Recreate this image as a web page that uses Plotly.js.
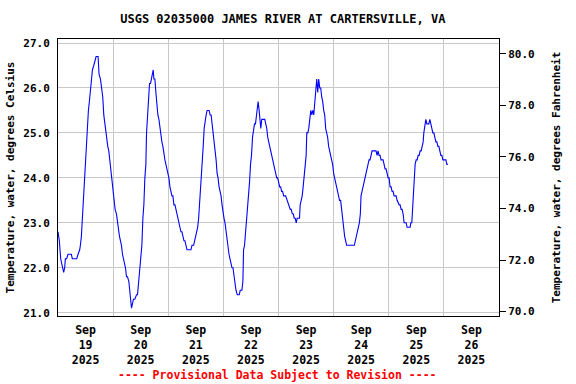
<!DOCTYPE html>
<html>
<head>
<meta charset="utf-8">
<script src="https://cdn.plot.ly/plotly-3.0.1.min.js"></script>
<style>html,body{margin:0;padding:0;background:#fff;}#chart{width:576px;height:384px;}</style>
</head>
<body>
<div id="chart"></div>
<script>
// Hours since 2025-09-19 00:00 (local station time)
const hoursSinceStart = [
0,0.58,1.16,1.45,2.04,2.47,2.91,3.2,3.78,4.36,5.82,6.25,8.15,8.73,9.45,9.75,10.18,10.62,11.05,11.49,11.93,12.36,12.8,13.24,13.67,13.96,14.55,14.98,15.56,16.0,16.58,17.45,17.89,18.47,19.05,19.49,19.93,20.36,20.8,21.24,21.67,22.11,22.55,22.98,23.42,24.0,24.44,24.87,25.45,25.89,26.33,26.76,27.2,27.64,28.07,28.51,28.95,29.38,29.82,30.25,30.84,31.27,31.56,32.0,32.44,32.87,33.45,34.18,34.62,35.05,35.49,36.07,36.51,36.95,37.38,37.82,38.25,38.55,38.98,39.42,39.85,40.29,40.73,41.16,41.45,41.75,42.18,42.62,43.05,43.49,43.93,44.36,44.8,45.24,45.67,46.11,46.55,46.98,47.42,47.85,48.29,48.73,49.16,49.6,50.04,50.47,50.91,51.35,51.78,52.22,52.65,53.09,53.53,53.96,54.4,54.84,55.27,55.71,56.15,57.89,58.33,59.05,59.49,59.93,60.36,60.8,61.24,61.67,
61.9,62.34,62.78,63.21,63.64,64.07,64.5,64.94,65.37,65.8,66.23,66.66,67.1,67.53,67.96,68.4,68.83,69.26,69.69,70.13,70.56,70.99,71.42,71.86,72.29,72.72,73.15,73.59,74.02,74.45,74.88,75.32,75.75,76.18,76.61,77.04,77.48,78.05,78.92,79.35,80.07,80.5,80.79,81.22,81.66,82.09,82.52,82.95,83.39,83.82,84.25,84.68,85.12,85.55,85.98,86.41,86.85,87.13,87.57,88.0,88.29,88.72,89.15,90.02,90.45,90.88,91.31,91.75,92.18,92.61,93.04,93.48,93.91,94.34,94.77,95.21,95.64,96.07,96.5,96.94,97.37,97.8,98.23,99.1,99.68,100.54,101.12,101.55,101.98,102.41,102.85,103.28,103.71,104.14,105.15,105.44,105.87,106.31,106.74,107.17,107.6,108.04,108.32,108.76,109.19,109.62,110.05,110.49,110.92,111.35,111.64,112.07,112.36,112.65,113.08,113.51,113.95,114.38,114.81,115.24,115.68,116.11,116.54,116.97,117.4,117.84,118.27,118.7,119.13,119.57,120.0,120.43,120.86,121.3,121.73,122.16,122.59,
123.05,123.49,123.93,124.36,124.8,125.24,125.67,129.02,129.45,129.89,130.33,130.76,131.2,131.64,131.93,132.36,132.8,133.24,133.67,134.11,134.55,134.98,135.42,135.85,136.29,136.73,137.16,138.47,138.91,139.35,139.78,140.22,140.65,141.53,141.96,142.4,142.84,143.27,143.71,144.15,144.58,145.02,145.45,145.89,146.33,147.2,147.64,148.51,148.95,149.38,149.82,150.25,150.69,151.56,152.0,153.31,153.6,154.04,154.33,154.62,155.05,155.49,155.93,156.36,156.8,157.24,157.67,158.11,158.55,158.98,159.27,159.71,160.15,160.58,161.02,161.45,161.89,162.33,162.76,163.2,163.64,164.07,164.51,164.95,165.38,165.82,166.25,166.69,167.13,167.56,168.0,168.44,168.87,169.31,169.75
];
// Water temperature, degrees Celsius
const tempC = [
22.8,22.6,22.2,22.1,22.0,21.9,22.0,22.2,22.2,22.3,22.3,22.2,22.2,22.3,22.4,22.5,22.7,23.1,23.5,24.0,24.2,24.6,25.1,25.5,25.7,25.9,26.1,26.4,26.5,26.6,26.7,26.7,26.3,26.2,26.0,25.8,25.4,25.2,25.1,24.9,24.7,24.6,24.4,24.1,23.9,23.7,23.5,23.3,23.2,23.0,22.9,22.7,22.6,22.5,22.3,22.2,22.1,22.0,21.8,21.8,21.7,21.5,21.3,21.1,21.2,21.3,21.3,21.4,21.4,21.7,21.8,22.2,22.5,23.1,23.4,24.0,24.3,25.0,25.3,25.6,26.1,26.1,26.2,26.3,26.4,26.2,26.2,25.9,25.6,25.4,25.3,25.1,25.0,24.8,24.7,24.5,24.4,24.3,24.2,24.1,24.0,23.8,23.7,23.6,23.6,23.4,23.4,23.3,23.2,23.1,23.0,22.9,22.8,22.8,22.7,22.6,22.6,22.5,22.4,22.4,22.5,22.5,22.6,22.7,22.8,22.9,23.1,23.4,
23.6,24.0,24.4,24.7,25.1,25.3,25.4,25.5,25.5,25.5,25.4,25.4,25.2,25.0,24.9,24.6,24.4,24.1,24.0,23.8,23.7,23.6,23.4,23.2,23.1,23.0,22.8,22.7,22.5,22.3,22.2,22.1,22.0,22.0,21.8,21.7,21.5,21.4,21.4,21.5,21.5,21.7,22.4,22.5,22.8,23.0,23.3,23.5,23.9,24.3,24.5,24.9,25.1,25.2,25.2,25.4,25.6,25.7,25.5,25.3,25.1,25.3,25.3,25.3,25.2,25.1,24.9,24.8,24.7,24.6,24.5,24.4,24.3,24.2,24.1,24.0,24.0,23.9,23.8,23.8,23.7,23.7,23.6,23.6,23.5,23.4,23.3,23.3,23.2,23.2,23.1,23.1,23.0,23.1,23.1,23.4,23.5,23.6,23.8,24.1,24.4,24.5,25.0,25.0,25.1,25.4,25.5,25.4,25.5,25.4,25.6,25.8,26.1,26.2,25.9,26.2,26.0,26.0,25.8,25.7,25.5,25.4,25.1,25.0,24.9,24.7,24.6,24.5,24.4,24.3,24.1,24.0,23.9,23.8,23.7,23.6,23.5,
23.5,23.3,23.0,22.9,22.7,22.6,22.5,22.5,22.6,22.7,22.8,22.9,23.0,23.2,23.6,23.7,23.8,23.9,24.0,24.1,24.2,24.3,24.4,24.4,24.5,24.6,24.6,24.6,24.5,24.6,24.5,24.5,24.4,24.4,24.3,24.2,24.2,24.1,24.0,24.0,23.8,23.8,23.7,23.7,23.6,23.6,23.5,23.4,23.4,23.3,23.3,23.2,23.0,23.0,22.9,22.9,23.0,23.0,23.3,23.6,24.0,24.3,24.4,24.4,24.5,24.5,24.6,24.6,24.7,24.8,25.0,25.2,25.3,25.2,25.2,25.2,25.3,25.2,25.1,25.0,25.0,24.9,24.8,24.8,24.7,24.7,24.6,24.5,24.5,24.4,24.4,24.4,24.4,24.3,24.3
];
const dayTickLabels = ["Sep<br>19<br>2025","Sep<br>20<br>2025","Sep<br>21<br>2025","Sep<br>22<br>2025","Sep<br>23<br>2025","Sep<br>24<br>2025","Sep<br>25<br>2025","Sep<br>26<br>2025"];
const celsiusTicks = [21,22,23,24,25,26,27];
const fahrenheitTicks = [70,72,74,76,78,80];

const startMs = Date.UTC(2025, 8, 19, 0, 0);
function toStamp(ms){ return new Date(ms).toISOString().slice(0,16).replace('T',' '); }
const times = hoursSinceStart.map(h => toStamp(startMs + Math.round(h*60)*60000));
const tempF = tempC.map(c => c*9/5 + 32);
const noonVals = dayTickLabels.map((_, i) => toStamp(startMs + (i*24 + 12)*3600000));
const midnightVals = [1,2,3,4,5,6,7].map(i => toStamp(startMs + i*24*3600000));
const xRange = [toStamp(startMs), toStamp(startMs + 8*24*3600000)];

const FONT = "DejaVu Sans Mono, Liberation Mono, monospace";

const traces = [
  // invisible companion in Fahrenheit: carries the day gridlines (x2) and right axis (y2)
  {x: times, y: tempF, type: 'scatter', mode: 'lines', line: {color: 'rgba(0,0,0,0)', width: 0}, hoverinfo: 'skip', xaxis: 'x2', yaxis: 'y2', showlegend: false},
  {x: times, y: tempC, type: 'scatter', mode: 'lines', line: {color: '#0000ff', width: 1.1}, hoverinfo: 'skip', xaxis: 'x', yaxis: 'y'}
];

const layout = {
  width: 576, height: 384,
  margin: {l: 58, r: 77, t: 39, b: 68},
  paper_bgcolor: '#ffffff', plot_bgcolor: '#ffffff',
  showlegend: false,
  font: {family: FONT, size: 11, color: '#000'},
  title: {text: 'USGS 02035000 JAMES RIVER AT CARTERSVILLE, VA', font: {family: FONT, size: 12, weight: 'bold', color: '#000'},
          xref: 'container', x: 0.491, xanchor: 'center', yref: 'container', y: 0.952, yanchor: 'middle'},
  xaxis: {
    type: 'date', range: xRange,
    tickmode: 'array', tickvals: noonVals, ticktext: dayTickLabels,
    showgrid: false, ticks: 'outside', ticklen: 3, tickcolor: 'rgba(0,0,0,0)', zeroline: false,
    showline: true, mirror: true, linecolor: '#000', linewidth: 1,
    tickfont: {family: FONT, size: 11.5, weight: 'bold', color: '#000'}
  },
  xaxis2: {
    type: 'date', overlaying: 'x', anchor: 'y', side: 'bottom', range: xRange,
    tickmode: 'array', tickvals: midnightVals, showticklabels: false, ticks: '',
    showgrid: true, gridcolor: '#c8c8c8', gridwidth: 1, zeroline: false, showline: false
  },
  yaxis: {
    range: [20.927, 27.089],
    tickmode: 'array', tickvals: celsiusTicks, tickformat: '.1f',
    showgrid: true, gridcolor: '#c8c8c8', gridwidth: 1, zeroline: false,
    ticks: 'outside', ticklen: 5, tickcolor: 'rgba(0,0,0,0)',
    showline: true, mirror: true, linecolor: '#000', linewidth: 1,
    tickfont: {family: FONT, size: 11, weight: 'bold', color: '#000'},
    title: {text: 'Temperature, water, degrees Celsius', standoff: 6, font: {family: FONT, size: 11, weight: 'bold', color: '#000'}}
  },
  yaxis2: {
    overlaying: 'y', side: 'right', anchor: 'x',
    range: [69.83, 80.57],
    tickmode: 'array', tickvals: fahrenheitTicks, tickformat: '.1f',
    showgrid: false, zeroline: false,
    ticks: 'outside', ticklen: 6, tickcolor: '#000', tickwidth: 1,
    showline: true, linecolor: '#000', linewidth: 1,
    tickfont: {family: FONT, size: 11, weight: 'bold', color: '#000'},
    title: {text: 'Temperature, water, degrees Fahrenheit', standoff: 18, font: {family: FONT, size: 11, weight: 'bold', color: '#000'}}
  },
  annotations: [{
    text: '---- Provisional Data Subject to Revision ----',
    xref: 'paper', yref: 'paper', x: 0.497, y: -0.213, xanchor: 'center', yanchor: 'middle',
    showarrow: false, font: {family: FONT, size: 11.5, weight: 'bold', color: '#ff0000'}
  }]
};

Plotly.newPlot('chart', traces, layout, {staticPlot: true, displayModeBar: false});
</script>
</body>
</html>
